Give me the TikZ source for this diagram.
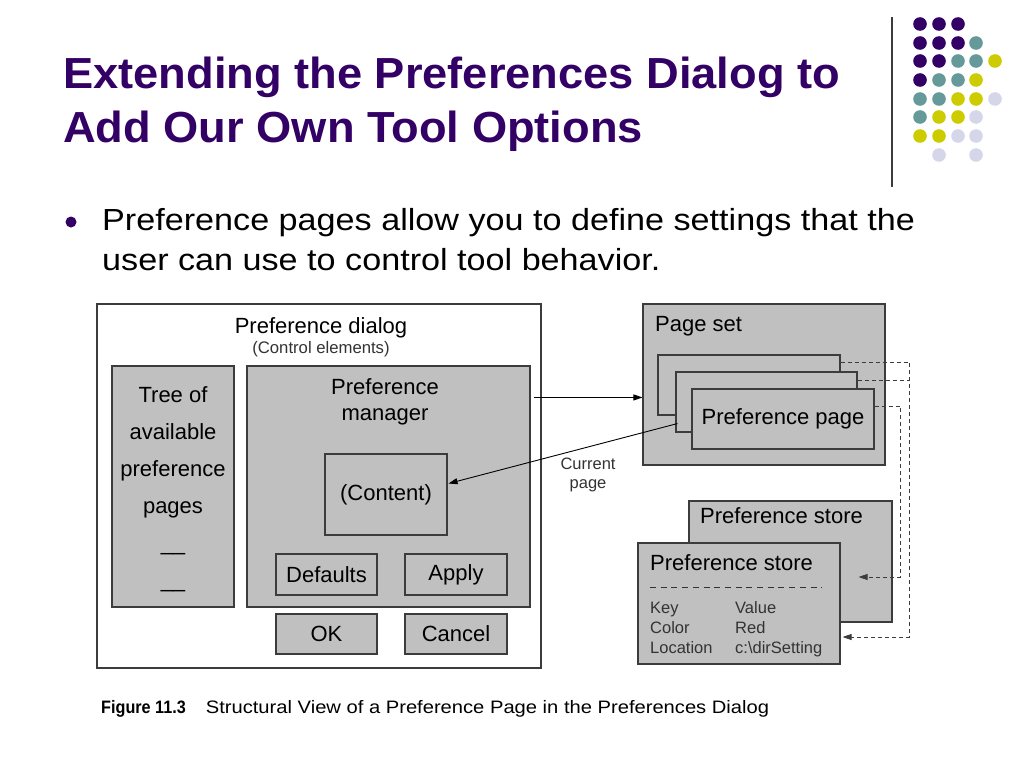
\documentclass[tikz,border=0pt]{standalone}
\usepackage{fontspec}
\setmainfont{Liberation Sans}
\usetikzlibrary{arrows.meta,calc}
\definecolor{titlepurple}{HTML}{330066}
\definecolor{dotteal}{HTML}{669999}
\definecolor{dotyellow}{HTML}{CCCC00}
\definecolor{dotlilac}{HTML}{D6D6EA}
\definecolor{boxgray}{HTML}{C0C0C0}
\definecolor{boxline}{HTML}{3C3C3C}
\definecolor{softtext}{HTML}{333333}
\begin{document}
\begin{tikzpicture}[x=1pt,y=-1pt,>={Triangle[length=9pt,width=6pt]}]
        \useasboundingbox (0,0) rectangle (1024,768);
        % slide heading and bullet
        \begin{scope}[every node/.style={anchor=base west,inner sep=0pt}]
            \node[text=titlepurple,font=\bfseries\fontsize{43.5}{44}\selectfont] (title1) at (63,88) {\scalebox{1.04}[1]{Extending the Preferences Dialog to}};
            \node[text=titlepurple,font=\bfseries\fontsize{43.5}{44}\selectfont] (title2) at (63,142) {\scalebox{1.04}[1]{Add Our Own Tool Options}};
            \node[font=\fontsize{30.5}{30}\selectfont] (point1) at (102,230) {\scalebox{1.12}[1]{Preference pages allow you to define settings that the}};
            \node[font=\fontsize{30.5}{30}\selectfont] (point2) at (102,270) {\scalebox{1.12}[1]{user can use to control tool behavior.}};
            \node[font=\fontsize{18}{18}\selectfont] (caption) at (101,713) {\scalebox{0.9}[1]{\textbf{Figure 11.3}}\hspace{20pt}\scalebox{1.12}[1]{Structural View of a Preference Page in the Preferences Dialog}};
        \end{scope}
        \fill[titlepurple] (71,222) circle (5.5pt);
        \draw[boxline,line width=1.2pt] (892,17) -- (892,187);
        \foreach \dx/\dy/\clr in {920/24/titlepurple,939/24/titlepurple,958/24/titlepurple,
                920/43/titlepurple,939/43/titlepurple,958/43/titlepurple,976/43/dotteal,
                920/61/titlepurple,939/61/titlepurple,958/61/dotteal,976/61/dotteal,995/61/dotyellow,
                920/80/titlepurple,939/80/dotteal,958/80/dotteal,976/80/dotyellow,
                920/99/dotteal,939/99/dotteal,958/99/dotyellow,976/99/dotyellow,995/99/dotlilac,
                920/117/dotteal,939/117/dotyellow,958/117/dotyellow,976/117/dotlilac,
                920/136/dotyellow,939/136/dotyellow,958/136/dotlilac,976/136/dotlilac,
                939/155/dotlilac,976/155/dotlilac}
            \fill[\clr] (\dx,\dy) circle (6.8pt);
        % boxes of the figure
        \begin{scope}[every node/.style={draw=boxline,fill=boxgray,line width=1.1pt,inner sep=0pt,
                align=center,font=\fontsize{22}{26}\selectfont}]
            \node[fill=white,minimum width=444pt,minimum height=364pt] (dialog) at (319,486) {};
            \node[minimum width=122pt,minimum height=241pt,font=\fontsize{22}{37}\selectfont] (tree) at (173,486.5) {\rule{0pt}{22pt}Tree of\\available\\preference\\pages\\\_\_\\\_\_};
            \node[minimum width=283pt,minimum height=241pt] (manager) at (388.5,486.5) {};
            \node[minimum width=122pt,minimum height=81pt] (content) at (386,494.5) {(Content)};
            \node[minimum width=101pt,minimum height=41pt] (defaults) at (326.5,574.5) {Defaults};
            \node[minimum width=102pt,minimum height=41pt] (apply) at (456,574.5) {Apply};
            \node[minimum width=101pt,minimum height=40pt] (ok) at (326.5,634) {OK};
            \node[minimum width=102pt,minimum height=40pt] (cancel) at (456,634) {Cancel};
            \node[minimum width=242pt,minimum height=161pt] (pageset) at (764,384.5) {};
            \node[minimum width=182pt,minimum height=60pt] (page1) at (749,385) {};
            \node[minimum width=181pt,minimum height=60pt] (page2) at (766.5,402) {};
            \node[minimum width=182pt,minimum height=60pt] (page3) at (783,419) {Preference page};
            \node[minimum width=203pt,minimum height=121pt] (back) at (790.5,561.5) {};
            \node[minimum width=202pt,minimum height=121pt] (front) at (739,603.5) {};
        \end{scope}
        \begin{scope}[every node/.style={inner sep=0pt,font=\fontsize{22}{26}\selectfont}]
            \node[anchor=base] (dlgname) at (321,333) {Preference dialog};
            \node[anchor=base,text=softtext,font=\fontsize{16.7}{20}\selectfont] (dlgnote) at (321,353) {(Control elements)};
            \node[anchor=north,align=center] (mgrname) at (385,378) {Preference\\manager};
            \node[anchor=base west] (setname) at (655,331) {Page set};
            \node[anchor=base west] (backname) at (700,523) {Preference store};
            \node[anchor=base west] (frontname) at (650,570) {Preference store};
            \node[anchor=north west,align=left,text=softtext,font=\fontsize{16.5}{20}\selectfont] (entries) at (650,601)
                {\makebox[85pt][l]{Key}Value\\\makebox[85pt][l]{Color}Red\\\makebox[85pt][l]{Location}c:\textbackslash dirSetting};
            \node[align=center,text=softtext,font=\fontsize{16.5}{19}\selectfont] (curname) at (588,475) {Current\\page};
        \end{scope}
        \draw[softtext,line width=0.8pt,dash pattern=on 6pt off 4.7pt] (650,587) -- (822,587);
        \coordinate (mgrout) at ($(manager.north east)+(3,32)$);
        \coordinate (curpage) at ($(page2.south west)+(2,-9)$);
        \coordinate (cntin) at ($(content.east)+(1,-11)$);
        \begin{scope}[every edge/.style={draw=black,line width=0.9pt}]
            \path [->] (mgrout) edge (mgrout -| pageset.west);
            \path [->] (curpage) edge (cntin);
        \end{scope}
        \begin{scope}[boxline,line width=0.8pt,dash pattern=on 4pt off 3pt]
            \draw [->] ($(page1.north east)+(0,8)$) -- ++(69,0) |- ($(front.east)+(2,33.5)$);
            \draw ($(page2.north east)+(0,9)$) -- ++(52,0);
            \draw [->] ($(page3.north east)+(0,18)$) -- ++(26,0) |- ($(back.east)+(-34,15.5)$);
        \end{scope}
    \end{tikzpicture}
\end{document}
